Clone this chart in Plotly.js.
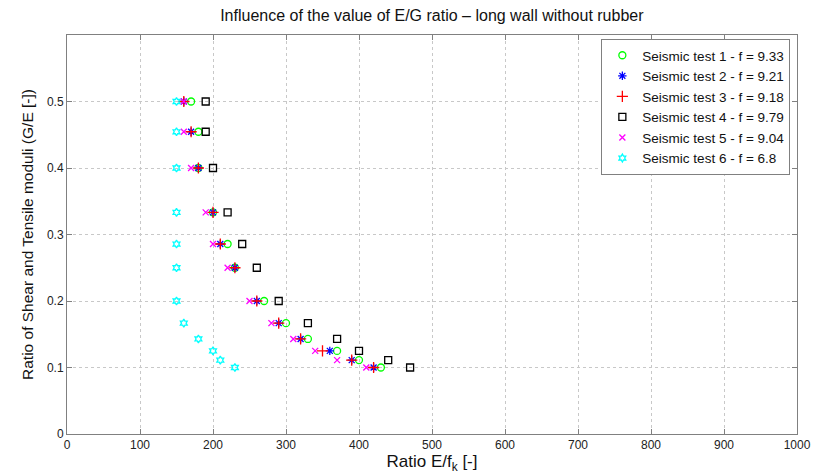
<!DOCTYPE html>
<html>
<head>
<meta charset="utf-8">
<script src="https://cdn.plot.ly/plotly-3.0.1.min.js"></script>
<style>html,body{margin:0;padding:0;background:#fff;}#chart{width:821px;height:476px;}</style>
</head>
<body>
<div id="chart"></div>
<script>
// G/E ratio levels (1/2 ... 1/10)
const yLevels = [0.5, 0.4545, 0.4, 0.3333, 0.2857, 0.25, 0.2, 0.1667, 0.1429, 0.125, 0.1111, 0.1];

const test1 = [170, 180, 180, 200, 220, 230, 270, 300, 330, 370, 400, 430];
const test2 = [160, 170, 180, 200, 210, 230, 260, 290, 320, 360, 390, 420];
const test3 = [160, 170, 180, 200, 210, 230, 260, 290, 320, 350, 390, 420];
const test4 = [190, 190, 200, 220, 240, 260, 290, 330, 370, 400, 440, 470];
const test5 = [160, 160, 170, 190, 200, 220, 250, 280, 310, 340, 370, 410];
const test6 = [150, 150, 150, 150, 150, 150, 150, 160, 180, 200, 210, 230];

const names = [
  'Seismic test 1 - f = 9.33',
  'Seismic test 2 - f = 9.21',
  'Seismic test 3 - f = 9.18',
  'Seismic test 4 - f = 9.79',
  'Seismic test 5 - f = 9.04',
  'Seismic test 6 - f = 6.8'
];
const xTicks = [0, 100, 200, 300, 400, 500, 600, 700, 800, 900, 1000];
const yTicks = [0, 0.1, 0.2, 0.3, 0.4, 0.5];

const series = [test1, test2, test3, test4, test5, test6];
const styles = [
  {symbol: 'circle-open', color: '#00ff00', size: 7},
  {symbol: 'asterisk-open', color: '#0000ff', size: 7},
  {symbol: 'cross-thin-open', color: '#ff0000', size: 8},
  {symbol: 'square-open', color: '#000000', size: 7},
  {symbol: 'x-thin-open', color: '#ff00ff', size: 6},
  {symbol: 'hexagram-open', color: '#00ffff', size: 6}
];

const traces = series.map((xs, i) => ({
  x: xs,
  y: yLevels,
  name: names[i],
  type: 'scatter',
  mode: 'markers',
  marker: {symbol: styles[i].symbol, size: styles[i].size, color: styles[i].color,
           line: {color: styles[i].color, width: 1.3}}
}));

const axisCommon = {
  showgrid: true,
  gridcolor: '#c8c8c8',
  griddash: 'dot',
  gridwidth: 1,
  zeroline: false,
  showline: true,
  linecolor: '#808080',
  linewidth: 1,
  mirror: 'ticks',
  ticks: 'inside',
  ticklen: 5,
  tickcolor: '#808080',
  tickfont: {family: 'Liberation Sans, Arial, sans-serif', size: 12, color: '#222'}
};

const layout = {
  width: 821,
  height: 476,
  margin: {l: 67, r: 24, t: 35, b: 42},
  paper_bgcolor: '#ffffff',
  plot_bgcolor: '#ffffff',
  font: {family: 'Liberation Sans, Arial, sans-serif', color: '#222'},
  title: {text: 'Influence of the value of E/G ratio \u2013 long wall without rubber',
          font: {size: 16, color: '#111'}, x: 0.526, xanchor: 'center', y: 0.968, yanchor: 'middle'},
  xaxis: Object.assign({}, axisCommon, {
    range: [0, 1000], tickvals: xTicks, ticktext: xTicks.map(String),
    title: {text: 'Ratio E/f<sub>k</sub> [-]', font: {size: 17, color: '#111'}, standoff: 1}
  }),
  yaxis: Object.assign({}, axisCommon, {
    range: [0, 0.6], tickvals: yTicks, ticktext: yTicks.map(String),
    title: {text: 'Ratio of Shear and Tensile moduli (G/E [-])', font: {size: 15.5, color: '#111'}, standoff: 9}
  }),
  showlegend: true,
  legend: {
    x: 0.732, y: 0.99, xanchor: 'left', yanchor: 'top',
    bgcolor: '#ffffff', bordercolor: '#808080', borderwidth: 1,
    font: {family: 'Liberation Sans, Arial, sans-serif', size: 13.5, color: '#111'},
    tracegroupgap: 0, itemwidth: 30
  }
};

Plotly.newPlot('chart', traces, layout, {displayModeBar: false, staticPlot: true});
</script>
</body>
</html>
